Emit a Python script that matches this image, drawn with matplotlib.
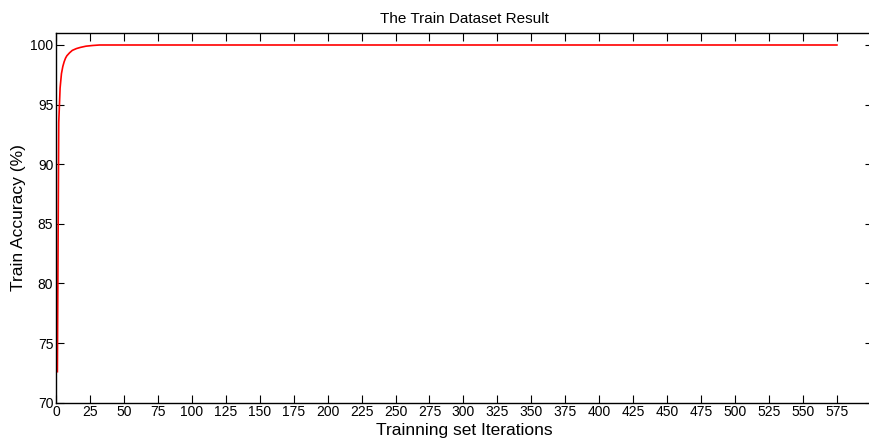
import numpy as np
import matplotlib.pyplot as plt
from matplotlib.ticker import MultipleLocator

plt.rcParams['font.family'] = ['Liberation Sans', 'DejaVu Sans']

# values
iterations = [1, 2, 3, 4, 5, 6, 7, 8, 10, 12, 15, 18, 22, 27, 32, 575]
accuracy = [72.6, 93.5, 96.4, 97.6, 98.2, 98.6, 98.9, 99.1, 99.35, 99.55,
            99.7, 99.8, 99.9, 99.96, 100.0, 100.0]

fig = plt.figure(figsize=(8.7, 4.41), dpi=100)
ax = fig.add_axes([0.0644, 0.0868, 0.9391, 0.8382])

ax.plot(iterations, accuracy, color='red', linewidth=1.2)

ax.set_xlim(0, 601.6)
ax.set_ylim(70, 101)
ax.yaxis.set_major_locator(MultipleLocator(5))
ax.set_xticks(np.arange(0, 576, 25))

ax.tick_params(direction='in', length=6, width=0.8, top=True, right=True,
               labelsize=10, pad=2)
for s in ax.spines.values():
    s.set_linewidth(1.0)

ax.set_title("The Train Dataset Result", fontsize=11, pad=7)
ax.set_xlabel("Trainning set Iterations", fontsize=12.5, labelpad=2.5)
ax.set_ylabel("Train Accuracy (%)", fontsize=12.5, labelpad=3)

fig.savefig("out.png", dpi=100)
